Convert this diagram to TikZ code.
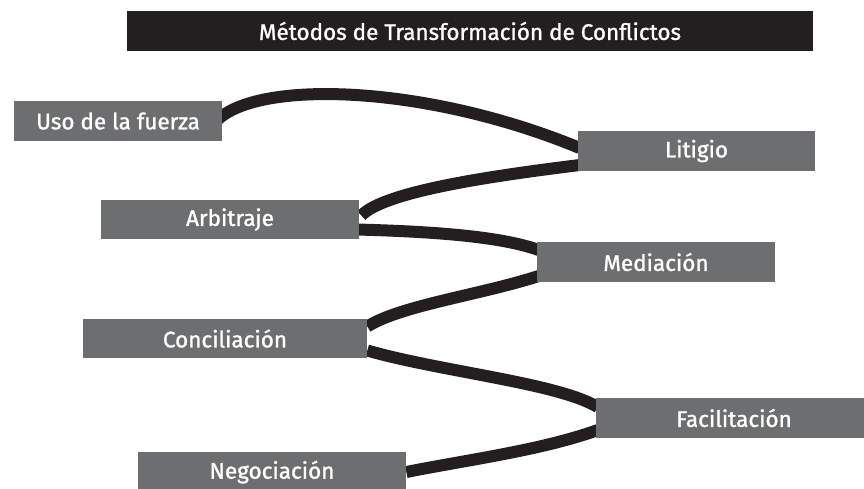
\documentclass[tikz,border=0pt]{standalone}
\usepackage{fontspec}
\setmainfont{Fira Sans}
\newfontfamily\labelfont[FakeBold=1.2]{Fira Sans}
\usetikzlibrary{backgrounds,calc}

\definecolor{boxgray}{HTML}{6D6E70}
\definecolor{inkblack}{HTML}{231F20}

\tikzstyle{method} = [rectangle, minimum height=0.8cm, inner sep=0pt, text centered, fill=boxgray, text=white, font=\labelfont\fontsize{12.8}{14}\selectfont]
\tikzstyle{heading} = [rectangle, minimum height=0.8cm, inner sep=0pt, text centered, fill=inkblack, text=white, font=\labelfont\fontsize{12.8}{14}\selectfont]
\tikzstyle{link} = [draw=inkblack, line width=0.24cm]

\begin{document}
\begin{tikzpicture}[x=0.02cm, y=-0.02cm]
  \useasboundingbox (0,0) rectangle (864,488);

  \node (title) [heading, minimum width=13.72cm] at (470,31) {Métodos de Transformación de Conflictos};
  \node (uso) [method, minimum width=4.16cm] at (118,121) {Uso de la fuerza};
  \node (litigio) [method, minimum width=4.74cm] at (696.5,151) {Litigio};
  \node (arbitraje) [method, minimum width=5.16cm, minimum height=0.78cm] at (230,219.5) {Arbitraje};
  \node (mediacion) [method, minimum width=4.76cm] at (656,262) {Mediación};
  \node (conciliacion) [method, minimum width=5.68cm, minimum height=0.78cm] at (225,338.5) {Conciliación};
  \node (facilitacion) [method, minimum width=5.52cm] at (734,418) {Facilitación};
  \node (negociacion) [method, minimum width=5.36cm] at (272,472) {Negociación};

  \begin{pgfonlayer}{background}
    \draw [link] ($(uso.east)+(-4,-2)$) .. controls +(45,-40) and +(-150,-62) .. ($(litigio.west)+(2,-3)$);
    \draw [link] ($(litigio.west)+(2,14)$) .. controls +(-80,10) and +(24,-25) .. ($(arbitraje.east)+(2,-4)$);
    \draw [link] ($(arbitraje.east)+(-2,10)$) .. controls +(73,2) and +(-39,-14) .. ($(mediacion.west)+(2,-12)$);
    \draw [link] ($(mediacion.west)+(2,14)$) .. controls +(-59,19) and +(33,-21) .. ($(conciliacion.east)+(0,-12)$);
    \draw [link] ($(conciliacion.east)+(0,12)$) .. controls +(73,21) and +(-40,-24) .. ($(facilitacion.west)+(2,-11)$);
    \draw [link] ($(facilitacion.west)+(2,12)$) .. controls +(-55,20) and +(60,-12) .. ($(negociacion.east)+(0,0)$);
  \end{pgfonlayer}
\end{tikzpicture}
\end{document}
